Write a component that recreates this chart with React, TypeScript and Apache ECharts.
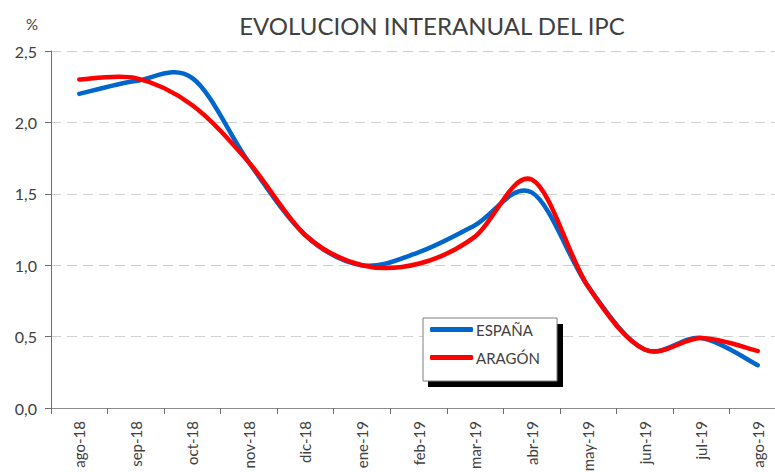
import React, { useEffect, useRef } from "react";
import * as echarts from "echarts";

const months = ["ago-18", "sep-18", "oct-18", "nov-18", "dic-18", "ene-19", "feb-19", "mar-19", "abr-19", "may-19", "jun-19", "jul-19", "ago-19"];
const espana = [2.2, 2.29, 2.31, 1.72, 1.21, 1.0, 1.09, 1.28, 1.51, 0.85, 0.41, 0.49, 0.3];
const aragon = [2.3, 2.31, 2.12, 1.72, 1.21, 1.0, 1.01, 1.2, 1.6, 0.85, 0.41, 0.49, 0.4];
const yTicks = { min: 0, max: 2.5, interval: 0.5 };

const FONT = "Lato, 'Open Sans', sans-serif";
const TEXT = "#404040";

// Excel-style smoothed line (Catmull-Rom as cubic Bezier) through points given by the axes
function smoothSeries(name: string, values: number[], color: string) {
  return {
    name,
    type: "custom",
    coordinateSystem: "cartesian2d",
    color,
    itemStyle: { color },
    data: values.map((v, i) => [i, v]),
    encode: { x: 0, y: 1 },
    renderItem: (params: any, api: any) => {
      if (params.dataIndex !== 0) return null;
      const p = values.map((v, i) => api.coord([i, v]) as number[]);
      const n = p.length;
      let d = `M${p[0][0]},${p[0][1]}`;
      for (let i = 0; i < n - 1; i++) {
        const p0 = p[Math.max(i - 1, 0)];
        const p1 = p[i];
        const p2 = p[i + 1];
        const p3 = p[Math.min(i + 2, n - 1)];
        const c1x = p1[0] + (p2[0] - p0[0]) / 6;
        const c1y = p1[1] + (p2[1] - p0[1]) / 6;
        const c2x = p2[0] - (p3[0] - p1[0]) / 6;
        const c2y = p2[1] - (p3[1] - p1[1]) / 6;
        d += ` C${c1x},${c1y} ${c2x},${c2y} ${p2[0]},${p2[1]}`;
      }
      return {
        type: "path",
        shape: { pathData: d },
        style: { fill: "none", stroke: color, lineWidth: 4.5, lineJoin: "round", lineCap: "round" },
      };
    },
  };
}

export default function App() {
  const ref = useRef<HTMLDivElement>(null);
  useEffect(() => {
    const chart = echarts.init(ref.current!, undefined, { renderer: "svg" });
    chart.setOption({
      animation: false,
      textStyle: { fontFamily: FONT },
      title: {
        text: "EVOLUCION INTERANUAL DEL IPC",
        left: 427,
        textAlign: "center",
        top: 8,
        textStyle: { fontFamily: FONT, fontSize: 24, fontWeight: "normal", color: TEXT },
      },
      graphic: [
        { type: "text", left: 26, top: 16, style: { text: "%", font: `15px ${FONT}`, fill: TEXT } },
        { type: "rect", z: 10, shape: { x: 428, y: 324, width: 135, height: 63 }, style: { fill: "#000" } },
        { type: "rect", z: 11, shape: { x: 423, y: 318, width: 134, height: 63 }, style: { fill: "#fff", stroke: "#7f7f7f", lineWidth: 1 } },
      ],
      legend: {
        left: 430,
        top: 322,
        orient: "vertical",
        padding: 0,
        itemGap: 13,
        itemWidth: 43,
        itemHeight: 5,
        icon: "roundRect",
        z: 20,
        textStyle: { fontFamily: FONT, fontSize: 15, color: TEXT, padding: [2, 0, 0, -2] },
        data: ["ESPAÑA", "ARAGÓN"],
      },
      grid: { left: 51, top: 51, bottom: 64, right: -11, outerBoundsMode: "none", containLabel: false },
      xAxis: {
        type: "category",
        data: months,
        boundaryGap: true,
        axisLine: { lineStyle: { color: "#8c8c8c", width: 1 } },
        axisTick: { show: true, length: 6, lineStyle: { color: "#6e6e6e" } },
        axisLabel: { rotate: 90, margin: 13, fontSize: 15, color: TEXT, fontFamily: FONT, interval: 0 },
        splitLine: { show: false },
      },
      yAxis: {
        type: "value",
        min: yTicks.min,
        max: yTicks.max,
        interval: yTicks.interval,
        axisLine: { show: true, lineStyle: { color: "#6e6e6e", width: 1 } },
        axisTick: { show: true, length: 6, lineStyle: { color: "#6e6e6e" } },
        axisLabel: {
          margin: 14,
          fontSize: 16,
          color: TEXT,
          fontFamily: FONT,
          formatter: (v: number) => v.toFixed(1).replace(".", ","),
        },
        splitLine: { show: true, lineStyle: { color: "#cfcfcf", type: [10, 6], width: 1.2 } },
      },
      series: [smoothSeries("ESPAÑA", espana, "#0066CC"), smoothSeries("ARAGÓN", aragon, "#FF0000")],
    });
    return () => chart.dispose();
  }, []);
  return <div ref={ref} style={{ position: "absolute", left: 0, top: 0, width: 775, height: 472 }} />;
}
